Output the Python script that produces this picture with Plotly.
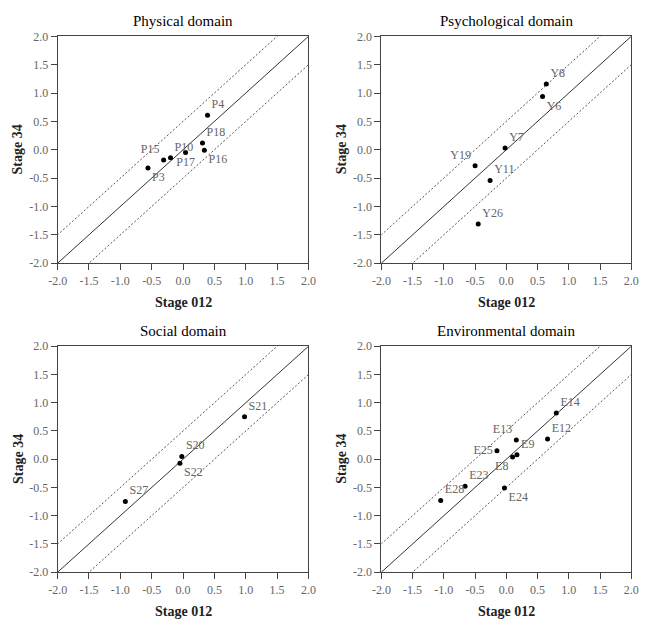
import plotly.graph_objects as go

# ---- data ----
phys_labels = ["P3", "P15", "P10", "P17", "P18", "P16", "P4"]
phys_x = [-0.56, -0.31, -0.20, 0.04, 0.31, 0.34, 0.39]
phys_y = [-0.32, -0.18, -0.14, -0.05, 0.12, -0.01, 0.61]
phys_pos = ["bottom right", "top left", "top right", "bottom center", "top right", "bottom right", "top right"]

psy_labels = ["Y8", "Y6", "Y7", "Y19", "Y11", "Y26"]
psy_x = [0.64, 0.58, -0.02, -0.50, -0.26, -0.45]
psy_y = [1.16, 0.94, 0.03, -0.28, -0.54, -1.31]
psy_pos = ["top right", "bottom right", "top right", "top left", "top right", "top right"]

soc_labels = ["S21", "S20", "S22", "S27"]
soc_x = [0.98, -0.02, -0.05, -0.92]
soc_y = [0.75, 0.05, -0.07, -0.75]
soc_pos = ["top right", "top right", "bottom right", "top right"]

env_labels = ["E14", "E12", "E13", "E9", "E8", "E25", "E23", "E28", "E24"]
env_x = [0.80, 0.66, 0.16, 0.17, 0.10, -0.15, -0.66, -1.05, -0.03]
env_y = [0.82, 0.36, 0.34, 0.08, 0.04, 0.15, -0.48, -0.73, -0.51]
env_pos = ["top right", "top right", "top left", "top right", "bottom left", "middle left", "top right", "top right", "bottom right"]

titles = ["Physical domain", "Psychological domain", "Social domain", "Environmental domain"]
tick_vals = [-2.0, -1.5, -1.0, -0.5, 0.0, 0.5, 1.0, 1.5, 2.0]
tick_text = ["-2.0", "-1.5", "-1.0", "-0.5", "0.0", "0.5", "1.0", "1.5", "2.0"]
axis_min, axis_max = -2.0, 2.0
band = 0.5
x_title = "Stage 012"
y_title = "Stage 34"

W, H = 648, 630
# plot areas in pixels (left, right, top, bottom)
areas = [(49, 307, 30, 262), (382, 639, 30, 262), (49, 307, 347, 578), (382, 639, 347, 578)]
panels = [
    (phys_x, phys_y, phys_labels, phys_pos),
    (psy_x, psy_y, psy_labels, psy_pos),
    (soc_x, soc_y, soc_labels, soc_pos),
    (env_x, env_y, env_labels, env_pos),
]

SERIF = "Liberation Serif"
fig = go.Figure()
annotations = []

for i, ((px, py, lab, pos), (l, r, t, b), title) in enumerate(zip(panels, areas, titles)):
    n = "" if i == 0 else str(i + 1)
    xa, ya = "x" + n, "y" + n
    # reference lines
    line_x = [axis_min - 1, axis_max + 1]
    for off, dash in [(0, "solid"), (band, "2px,2px"), (-band, "2px,2px")]:
        fig.add_trace(go.Scatter(
            x=line_x, y=[v + off for v in line_x], mode="lines",
            line=dict(color="#333333" if off == 0 else "#555555", width=1.0, dash=dash),
            xaxis=xa, yaxis=ya, hoverinfo="skip", showlegend=False))
    fig.add_trace(go.Scatter(
        x=px, y=py, mode="markers+text", text=lab, textposition=pos,
        textfont=dict(family=SERIF, size=12, color="#666666"),
        marker=dict(color="black", size=5), cliponaxis=False,
        xaxis=xa, yaxis=ya, showlegend=False))
    axis_common = dict(
        range=[axis_min, axis_max], tickvals=tick_vals, ticktext=tick_text,
        ticks="outside", ticklen=6, tickcolor="#444444", tickwidth=1,
        showline=True, linecolor="#444444", linewidth=1, mirror=True,
        showgrid=False, zeroline=False,
        tickfont=dict(family=SERIF, size=12, color="#666666"))
    fig.layout["xaxis" + n] = dict(domain=[l / W, r / W], anchor=ya, **axis_common)
    fig.layout["yaxis" + n] = dict(domain=[1 - b / H, 1 - t / H], anchor=xa, **axis_common)
    # titles
    cx = (l + r) / 2 / W
    annotations.append(dict(text=title, x=cx, y=1 - (t - 16) / H, xref="paper", yref="paper",
                            showarrow=False, font=dict(family=SERIF, size=15, color="black"),
                            xanchor="center", yanchor="middle"))
    annotations.append(dict(text="<b>" + x_title + "</b>", x=cx, y=1 - (b + 40) / H,
                            xref="paper", yref="paper", showarrow=False,
                            font=dict(family=SERIF, size=14, color="#222222"),
                            xanchor="center", yanchor="middle"))
    annotations.append(dict(text="<b>" + y_title + "</b>", x=(l - 41) / W, y=1 - (t + b) / 2 / H,
                            xref="paper", yref="paper", showarrow=False, textangle=-90,
                            font=dict(family=SERIF, size=14, color="#222222"),
                            xanchor="center", yanchor="middle"))

fig.update_layout(width=W, height=H, margin=dict(l=0, r=0, t=0, b=0),
                  plot_bgcolor="white", paper_bgcolor="white",
                  annotations=annotations, showlegend=False)
fig.write_html("out.html")
